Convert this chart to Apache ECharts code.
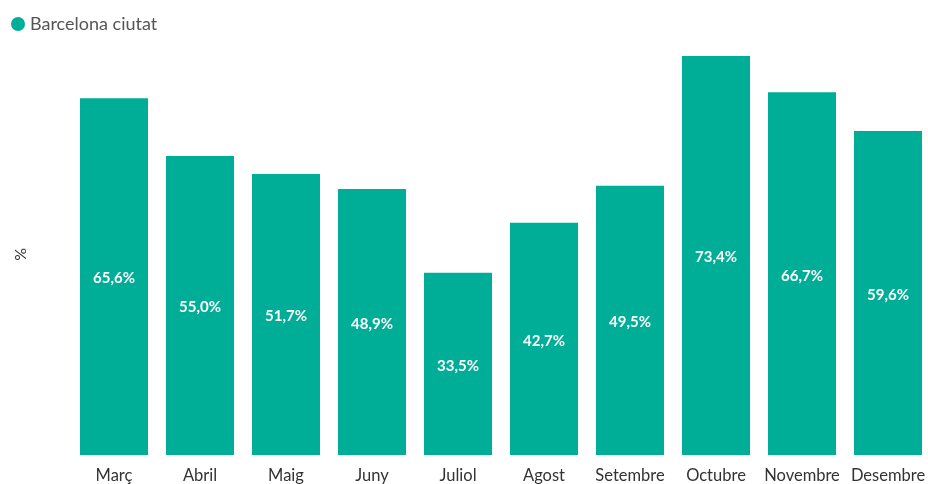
<html>
<head>
<meta charset="utf-8">
<title>Barcelona ciutat</title>
<script src="https://cdn.jsdelivr.net/npm/echarts@6/dist/echarts.min.js"></script>
<style>
  body { margin: 0; background: #fff; overflow: hidden; }
  #chart { width: 931px; height: 484px; }
</style>
</head>
<body>
<div id="chart"></div>
<script>
var months = ['Març', 'Abril', 'Maig', 'Juny', 'Juliol', 'Agost', 'Setembre', 'Octubre', 'Novembre', 'Desembre'];
var values = [65.6, 55.0, 51.7, 48.9, 33.5, 42.7, 49.5, 73.4, 66.7, 59.6];
var seriesName = 'Barcelona ciutat';

var chart = echarts.init(document.getElementById('chart'));
chart.setOption({
  textStyle: { fontFamily: 'Lato' },
  legend: {
    left: 6, top: 10,
    icon: 'circle',
    itemWidth: 14, itemHeight: 14, itemGap: 5,
    textStyle: { color: '#555', fontSize: 18, fontFamily: 'Lato' },
    data: [seriesName]
  },
  // "%" label of the y axis sits a bit below the middle of the plot
  graphic: [{
    type: 'text',
    left: 13, top: 248,
    rotation: Math.PI / 2,
    style: { text: '%', fill: '#333', font: '16px Lato' }
  }],
  grid: { left: 71, right: 0, top: 20, bottom: 29 },
  xAxis: {
    type: 'category',
    data: months,
    axisLine: { show: false },
    axisTick: { show: false },
    axisLabel: { color: '#333', fontSize: 16.5, margin: 12, interval: 0 }
  },
  yAxis: {
    type: 'value',
    min: 0, max: 80,
    axisLabel: { show: false },
    axisLine: { show: false },
    axisTick: { show: false },
    splitLine: { show: false }
  },
  series: [{
    name: seriesName,
    type: 'bar',
    data: values,
    barWidth: 68,
    itemStyle: { color: '#00AE97' },
    label: {
      show: true,
      position: 'inside',
      offset: [0, 2],
      color: '#fff',
      fontWeight: 'bold',
      fontSize: 15,
      formatter: function (p) { return p.value.toFixed(1).replace('.', ',') + '%'; }
    }
  }]
});
</script>
</body>
</html>
